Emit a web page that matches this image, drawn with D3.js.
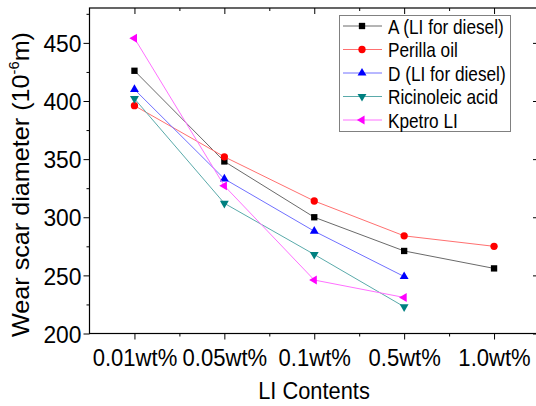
<!DOCTYPE html>
<html>
<head>
<meta charset="utf-8">
<style>
  body { margin: 0; background: #fff; }
  svg { font-family: "Liberation Sans", Arial, sans-serif; }
  .axis path, .axis line { stroke: #000; }
</style>
</head>
<body>
<svg width="536" height="406"></svg>
<script src="https://d3js.org/d3.v7.min.js"></script>
<script>
// data
let contents = ["0.01wt%", "0.05wt%", "0.1wt%", "0.5wt%", "1.0wt%"]
let seriesNames = ["A (LI for diesel)", "Perilla oil", "D (LI for diesel)", "Ricinoleic acid", "Kpetro LI"]
let valuesA = [426, 348, 300, 271, 256]
let valuesPerilla = [396, 352, 314, 284, 275]
let valuesD = [410, 333, 288, 249]
let valuesRicinoleic = [402, 312, 268, 223]
let valuesKpetro = [454, 327, 246, 231]
let yMajorTicks = [200, 250, 300, 350, 400, 450]
let yMinorTicks = [225, 275, 325, 375, 425, 475]

let styles = [
  { marker: "#000", line: "#6a6a6a", shape: d3.symbolSquare, size: 40, rot: 0 },
  { marker: "#ff0000", line: "#ff7070", shape: d3.symbolCircle, size: 42, rot: 0 },
  { marker: "#0000ff", line: "#7070ff", shape: d3.symbolTriangle, size: 34, rot: 0 },
  { marker: "#008080", line: "#5aaaaa", shape: d3.symbolTriangle, size: 34, rot: 180 },
  { marker: "#ff00ff", line: "#ff70ff", shape: d3.symbolTriangle, size: 34, rot: -90 }
]
let allValues = [valuesA, valuesPerilla, valuesD, valuesRicinoleic, valuesKpetro]

let svg = d3.select("svg")
let pLeft = 89.5, pRight = 539, pTop = 8, pBottom = 333.5

let x = d3.scaleLinear().domain([-0.5, 4.5]).range([pLeft, pRight])
let y = d3.scaleLinear().domain([200, 480]).range([pBottom, pTop])

// frame lines
svg.append("rect")
  .attr("x", pLeft).attr("y", pTop)
  .attr("width", pRight - pLeft).attr("height", pBottom - pTop)
  .attr("fill", "none").attr("stroke", "#000").attr("stroke-width", 1.2)

// bottom axis
let bx = svg.append("g").attr("class", "axis")
  .attr("transform", `translate(0,${pBottom})`)
  .call(d3.axisBottom(x).tickValues([0, 1, 2, 3, 4]).tickFormat(i => contents[i]).tickSize(6).tickSizeOuter(0))
bx.select(".domain").remove()
bx.selectAll("text")
  .attr("y", 33).attr("dy", 0)
  .attr("font-size", 24).attr("fill", "#000")
  .attr("transform", "scale(0.92,1)")
svg.append("g").attr("class", "axis")
  .attr("transform", `translate(0,${pBottom})`)
  .call(d3.axisBottom(x).tickValues([0.5, 1.5, 2.5, 3.5]).tickFormat("").tickSize(3).tickSizeOuter(0))
  .select(".domain").remove()

// top axis (inward)
let tx = svg.append("g").attr("class", "axis")
  .attr("transform", `translate(0,${pTop})`)
tx.call(d3.axisTop(x).tickValues([0, 1, 2, 3, 4]).tickFormat("").tickSize(-6).tickSizeOuter(0))
tx.append("g").call(d3.axisTop(x).tickValues([0.5, 1.5, 2.5, 3.5]).tickFormat("").tickSize(-3).tickSizeOuter(0))
tx.selectAll(".domain").remove()

// left axis
let ly = svg.append("g").attr("class", "axis")
  .attr("transform", `translate(${pLeft},0)`)
  .call(d3.axisLeft(y).tickValues(yMajorTicks).tickSize(6).tickSizeOuter(0))
ly.select(".domain").remove()
ly.selectAll("text")
  .attr("x", -8.5).attr("dy", "0.36em")
  .attr("font-size", 24).attr("fill", "#000")
  .attr("transform", "scale(0.95,1)")
svg.append("g").attr("class", "axis")
  .attr("transform", `translate(${pLeft},0)`)
  .call(d3.axisLeft(y).tickValues(yMinorTicks).tickFormat("").tickSize(3).tickSizeOuter(0))
  .select(".domain").remove()

// right axis (inward)
let ry = svg.append("g").attr("class", "axis")
  .attr("transform", `translate(${pRight},0)`)
ry.call(d3.axisRight(y).tickValues(yMajorTicks).tickFormat("").tickSize(-6).tickSizeOuter(0))
ry.append("g").call(d3.axisRight(y).tickValues(yMinorTicks).tickFormat("").tickSize(-3).tickSizeOuter(0))
ry.selectAll(".domain").remove()

// axis titles
svg.append("text")
  .attr("transform", "translate(314,399) scale(0.95,1)")
  .attr("text-anchor", "middle")
  .attr("font-size", 23)
  .text("LI Contents")

let yt = svg.append("text")
  .attr("transform", "translate(29,184.5) rotate(-90)")
  .attr("text-anchor", "middle")
  .attr("font-size", 24)
  .attr("textLength", 305)
  .attr("lengthAdjust", "spacingAndGlyphs")
yt.append("tspan").text("Wear scar diameter (10")
yt.append("tspan").attr("font-size", 14).attr("dy", -10).text("-6")
yt.append("tspan").attr("dy", 10).text("m)")

// series
let line = d3.line().x((d, i) => x(i)).y(d => y(d))
allValues.forEach((vals, k) => {
  let s = styles[k]
  svg.append("path")
    .attr("d", line(vals))
    .attr("fill", "none")
    .attr("stroke", s.line)
    .attr("stroke-width", 1)
  svg.append("g").selectAll("path")
    .data(vals)
    .join("path")
    .attr("d", d3.symbol().type(s.shape).size(s.size))
    .attr("transform", (d, i) => `translate(${x(i)},${y(d)}) rotate(${s.rot})`)
    .attr("fill", s.marker)
})

// legend
let legend = svg.append("g")
legend.append("rect")
  .attr("x", 339.5).attr("y", 15.5)
  .attr("width", 171).attr("height", 116)
  .attr("fill", "#fff").attr("stroke", "#808080").attr("stroke-width", 1)
seriesNames.forEach((name, k) => {
  let s = styles[k]
  let ry0 = 26 + k * 23.5
  legend.append("line")
    .attr("x1", 343).attr("x2", 382)
    .attr("y1", ry0).attr("y2", ry0)
    .attr("stroke", s.line).attr("stroke-width", 1)
  legend.append("path")
    .attr("d", d3.symbol().type(s.shape).size(s.size))
    .attr("transform", `translate(362,${ry0}) rotate(${s.rot})`)
    .attr("fill", s.marker)
  legend.append("text")
    .attr("transform", `translate(388,${ry0}) scale(0.82,1)`)
    .attr("dy", "0.36em")
    .attr("font-size", 21)
    .text(name)
})
</script>
</body>
</html>
